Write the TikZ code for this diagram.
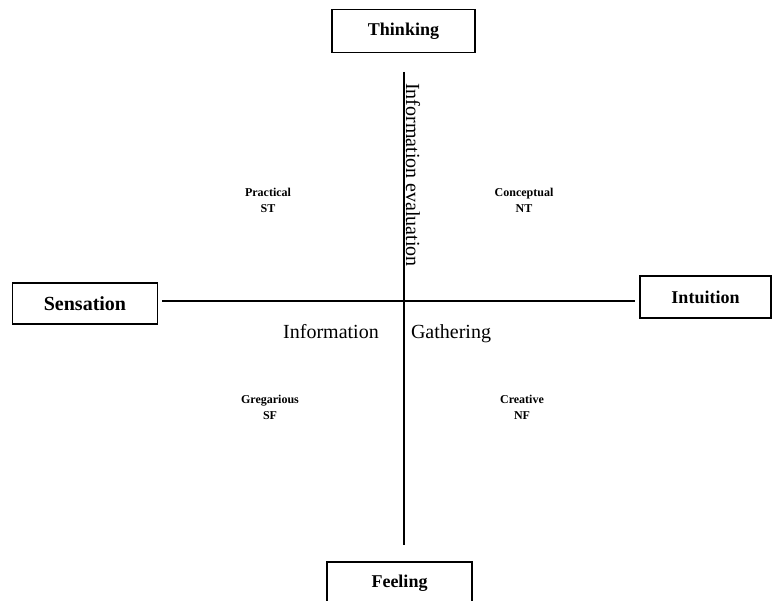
\documentclass[tikz,border=0pt]{standalone}
\usepackage{fontspec}
\setmainfont{Liberation Serif}
\usetikzlibrary{positioning}
\tikzset{
  funcbox/.style={draw=black, line width=1.5pt, fill=white, inner sep=0pt,
                  font=\fontsize{18}{20}\selectfont\bfseries},
  quadtext/.style={align=center, inner sep=0pt,
                   font=\fontsize{12}{16}\selectfont\bfseries},
  axistext/.style={inner sep=0pt, font=\fontsize{20}{22}\selectfont},
  axisline/.style={line width=1.4pt}
}
\newcommand{\quadrant}[4]{\node[quadtext] (#1) at (#2,#3) {#4};}

\begin{document}
\begin{tikzpicture}[x=1pt, y=-1pt]
  \useasboundingbox (0,0) rectangle (773,601);
  % the four functions
  \node[funcbox, minimum width=143pt, minimum height=43pt] (thinking)  at (403.5,31)  {Thinking};
  \node[funcbox, minimum width=145pt, minimum height=41pt,
        font=\fontsize{20}{22}\selectfont\bfseries]        (sensation) at (85,303.5)  {Sensation};
  \node[funcbox, minimum width=131pt, minimum height=42pt] (intuition) at (705.5,297) {Intuition};
  \node[funcbox, minimum width=145pt, minimum height=42pt] (feeling)   at (399.5,583) {Feeling};
  % axes
  \coordinate (north) at (404,72);
  \coordinate (south) at (404,545);
  \coordinate (west)  at (162,301);
  \coordinate (east)  at (635,301);
  \draw[axisline] (north) -- (south);
  \draw[axisline] (west) -- (east);
  \node[axistext, rotate=-90] (evaluation) at (413,175) {Information evaluation};
  \node[axistext, anchor=base] (information) at (331,338) {Information};
  \node[axistext, anchor=base] (gathering)   at (451,338) {Gathering};
  % quadrants
  \quadrant{st}{268}{200}{Practical\\ST}
  \quadrant{nt}{524}{200}{Conceptual\\NT}
  \quadrant{sf}{270}{407}{Gregarious\\SF}
  \quadrant{nf}{522}{407}{Creative\\NF}
\end{tikzpicture}
\end{document}
